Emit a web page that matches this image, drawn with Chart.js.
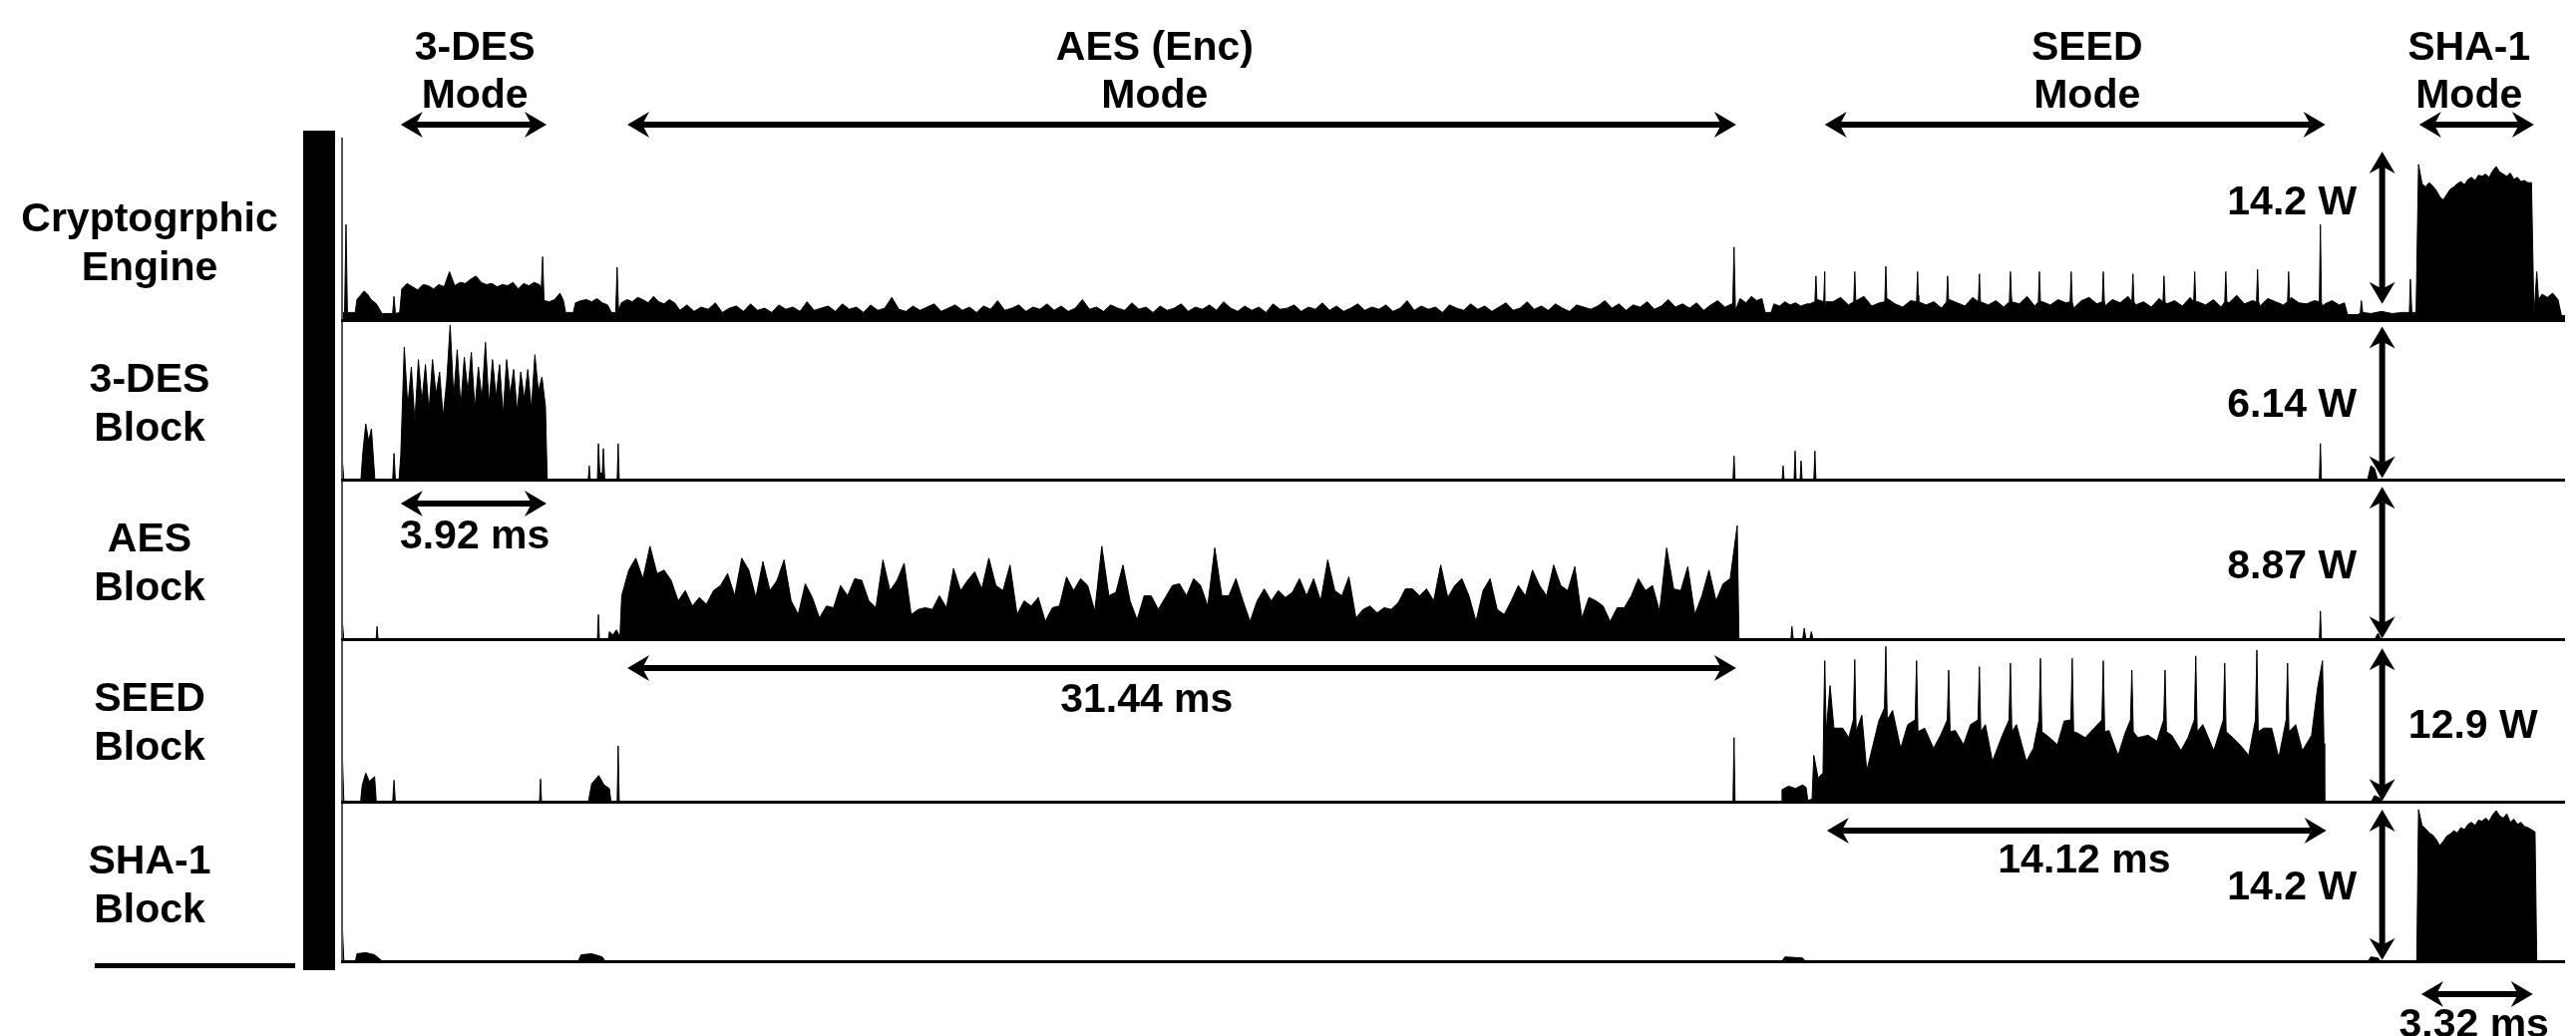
<!DOCTYPE html>
<html>
<head>
<meta charset="utf-8">
<title>Cryptographic engine power traces</title>
<script src="https://cdn.jsdelivr.net/npm/chart.js@4.4.1/dist/chart.umd.min.js"></script>
<style>
  html, body { margin: 0; padding: 0; background: #fff; }
  canvas { display: block; }
</style>
</head>
<body>
<canvas id="traces" width="2583" height="1039"></canvas>
<script>
// time in ms, power in W

// --- Cryptographic engine (total) ---
const engineEarly = [[0,0.8],[0.1,0.8],[0.14,9.0],[0.18,0.8],[0.4,0.8],[0.45,2.0],[0.55,2.4],[0.65,2.8],[0.75,2.5],[0.85,2.0],[1.0,1.6],[1.16,0.7],[1.46,0.7],[1.5,2.3],[1.54,0.7],[1.66,0.8]];
const engineDes = [3.0,3.5,3.2,2.9,3.4,3.3,3.0,3.4,3.2,4.6,3.3,3.6,3.5,3.9,4.2,3.6,3.4,3.5,3.2,3.4,3.3,3.6,3.0,3.5,3.3,3.6,3.4];
const engineMid = [[5.67,3.0],[5.71,6.0],[5.75,1.9],[5.9,1.8],[6.05,2.0],[6.2,2.6],[6.3,1.9],[6.36,0.8],[6.58,0.8],[6.64,1.7],[6.8,1.9],[6.95,2.0],[7.1,1.8],[7.25,2.1],[7.4,1.7],[7.55,1.5],[7.66,0.8],[7.78,0.8],[7.82,5.0],[7.86,1.0],[7.94,1.7],[8.1,2.0],[8.25,1.8],[8.4,2.2],[8.55,2.0],[8.7,1.7],[8.85,2.3],[9.0,1.8],[9.15,1.6],[9.3,2.0],[9.45,1.7]];
const engineAes = [
  1.0,1.5,0.9,1.3,1.1,1.7,0.8,1.2,1.4,0.9,
  1.6,1.0,1.2,0.8,1.5,1.1,1.3,0.9,1.8,1.0,
  1.2,1.4,0.9,1.6,1.1,1.3,0.8,1.5,1.0,1.2,
  2.2,1.1,0.9,1.4,1.0,1.3,1.6,0.9,1.2,1.5,
  1.0,1.3,0.8,1.4,1.1,1.9,1.0,1.2,1.5,0.9,
  1.3,1.1,1.6,1.0,1.4,0.9,1.2,2.0,1.1,1.3,
  0.9,1.5,1.2,1.0,1.7,1.1,1.3,0.8,1.4,1.0,
  1.2,1.6,0.9,1.3,1.1,1.5,1.0,1.8,1.2,0.9,
  1.4,1.0,1.3,0.8,1.6,1.1,1.2,1.5,0.9,1.3,
  1.1,1.7,1.0,1.4,0.9,1.2,1.6,1.0,1.3,1.1,
  1.5,0.9,1.2,1.9,1.0,1.4,1.1,1.3,0.8,1.5,
  1.2,1.0,1.6,1.1,1.4,0.9,1.3,1.7,1.0,1.2,
  1.8,1.1,1.4,1.0,1.6,1.2,0.9,1.5,1.3,1.1,
  1.4,1.9,1.2,1.6,1.0,1.5,1.3,1.8,1.1,1.4,
  2.0,1.3,1.6,1.2,1.7,1.0,1.5,1.9,1.3,1.6];
const engineGap = [[39.42,1.0],[39.46,6.9],[39.5,1.0],[39.63,2.1],[39.8,1.7],[39.95,2.3],[40.1,1.9],[40.25,2.1],[40.34,0.8],[40.51,0.8],[40.59,1.6],[40.75,1.4],[40.9,1.8],[41.05,1.5],[41.2,1.7],[41.35,1.4],[41.53,1.6]];
const engineSeed = [
  1.6,2.0,1.4,1.8,2.2,1.5,1.9,2.3,1.4,1.7,
  2.1,1.6,1.3,1.9,2.4,1.5,1.8,1.2,2.0,1.7,
  1.4,2.2,1.8,1.5,1.9,1.3,2.1,1.6,2.3,1.4,
  1.8,1.5,2.0,1.7,1.2,1.9,2.2,1.6,1.4,2.0,
  1.7,2.3,1.5,1.8,1.3,2.1,1.6,1.9,1.4,2.2,
  1.8,1.5,2.0,1.3,1.7,2.4,1.6,1.9,1.4,2.1,
  1.8,1.5,2.2,1.7,1.6,1.9,1.4];
const engineSeedSpikes = [
  [41.75,1.8],[41.78,4.2],[41.81,1.8],[42.0,1.8],[42.03,4.6],[42.06,1.8],
  [42.85,1.8],[42.88,4.6],[42.91,1.8],[43.73,1.8],[43.76,5.1],[43.79,1.8],
  [44.63,1.8],[44.66,4.6],[44.69,1.8],[45.48,1.8],[45.51,4.2],[45.54,1.8],
  [46.38,1.8],[46.41,4.4],[46.44,1.8],[47.26,1.8],[47.29,4.6],[47.32,1.8],
  [48.08,1.8],[48.11,4.6],[48.14,1.8],[48.98,1.8],[49.01,4.6],[49.04,1.8],
  [49.89,1.8],[49.92,4.6],[49.95,1.8],[50.73,1.8],[50.76,4.4],[50.79,1.8],
  [51.61,1.8],[51.64,4.2],[51.67,1.8],[52.48,1.8],[52.51,4.6],[52.54,1.8],
  [53.36,1.8],[53.39,4.6],[53.42,1.8],[54.26,1.8],[54.29,4.8],[54.32,1.8],
  [55.14,1.8],[55.17,4.6],[55.2,1.8],[56.04,1.8],[56.07,9.0],[56.1,1.8]];
const engineLate = [[56.2,1.6],[56.4,1.9],[56.6,1.5],[56.75,1.7],[56.84,0.6],[57.15,0.6],[57.2,0.8],[57.23,1.9],[57.27,0.8],[57.5,0.7],[57.8,0.9],[58.1,0.7],[58.4,0.8],[58.59,0.8],[58.62,3.9],[58.66,0.8],[58.78,0.8]];
const engineSha = [14.6,12.8,12.5,12.9,12.6,12.2,11.6,11.3,11.8,12.3,12.5,12.8,13.0,12.7,13.2,13.4,13.1,13.6,13.5,13.7,13.4,14.0,14.4,13.9,13.7,13.5,13.8,13.2,13.4,13.0,13.1,12.9,12.9];
const engineTail = [[62.12,0.5],[62.2,4.6],[62.25,2.0],[62.35,2.5],[62.5,2.2],[62.65,2.6],[62.8,2.0],[62.9,0.5],[63,0.5]];

// --- 3-DES block ---
const desSparse = [[0,0],[0.03,1.0],[0.08,0],[0.56,0],[0.62,1.2],[0.7,2.3],[0.78,1.6],[0.86,2.1],[0.96,0],[1.46,0],[1.5,1.1],[1.54,0],[1.64,0],[5.84,0],[7.0,0],[7.03,0.6],[7.06,0],[7.26,0],[7.29,1.5],[7.33,0.3],[7.4,0.3],[7.43,1.3],[7.47,0],[7.82,0],[7.85,1.5],[7.88,0],[39.43,0],[39.46,1.0],[39.49,0],[40.82,0],[40.85,0.6],[40.88,0],[41.16,0],[41.19,1.2],[41.22,0],[41.33,0],[41.36,0.8],[41.39,0],[41.72,0],[41.75,1.2],[41.78,0],[56.04,0],[56.07,1.5],[56.1,0],[57.4,0],[57.5,0.6],[57.6,0.5],[57.7,0],[63,0]];
const desBurst = [1.0,5.4,3.0,4.6,2.4,4.9,3.2,4.7,2.8,4.9,3.5,4.4,2.6,4.0,6.3,3.4,5.3,3.0,5.0,3.6,5.2,2.9,4.6,3.3,5.6,3.1,4.9,3.4,4.7,2.7,4.9,3.5,4.5,2.8,4.4,3.3,4.5,2.9,5.1,3.6,4.2,3.0];

// --- AES block ---
const aesSparse = [[0,0],[0.03,1.3],[0.08,0],[0.99,0],[1.02,0.8],[1.05,0],[7.26,0],[7.29,1.5],[7.32,0],[7.57,0],[7.6,0.5],[7.7,0.3],[7.8,0.6],[7.9,0.2],[39.6,0],[41.07,0],[41.1,0.8],[41.14,0],[41.4,0],[41.45,0.7],[41.5,0],[41.6,0],[41.65,0.5],[41.7,0],[56.04,0],[56.07,1.7],[56.1,0],[57.6,0],[57.7,0.4],[57.8,0],[63,0]];
const aesBurst = [
  2.6,4.1,4.8,3.6,5.5,3.9,4.1,3.5,2.3,2.9,
  2.0,2.5,2.1,2.9,3.2,3.9,2.6,4.8,4.1,2.5,
  4.6,2.9,3.5,4.7,2.3,1.5,3.3,2.5,1.3,2.0,
  1.9,3.2,2.6,3.6,3.5,2.3,1.9,4.7,2.9,3.5,
  4.5,1.5,1.8,1.9,1.8,2.6,1.9,4.2,2.9,3.5,
  4.0,3.0,4.8,3.2,2.9,4.4,1.5,2.3,2.0,2.5,
  1.1,1.9,2.0,3.7,2.9,3.6,3.2,1.7,5.5,2.6,
  2.8,4.4,2.3,1.2,2.6,2.6,1.8,2.5,3.2,3.3,
  2.6,3.6,3.2,2.0,5.4,2.6,2.6,3.6,2.3,1.1,
  2.3,3.0,2.3,2.9,2.5,2.8,3.6,2.6,3.6,2.3,
  4.7,2.9,2.6,3.7,1.3,1.8,2.0,1.6,1.9,1.8,
  2.2,3.0,3.0,2.6,3.0,2.3,4.4,2.5,3.2,3.6,
  2.6,1.1,2.9,3.6,1.8,1.5,2.3,3.2,2.6,4.1,
  3.2,2.6,4.4,3.2,2.9,4.3,1.3,2.5,2.3,2.0,
  1.1,1.9,1.9,2.6,3.6,2.9,3.2,1.7,5.4,3.0,
  2.9,4.3,1.5,2.6,4.1,2.3,3.3,3.6,6.7];

// --- SEED block ---
const seedSparse = [[0,0],[0.03,4.8],[0.08,0],[0.55,0],[0.6,1.5],[0.7,2.5],[0.8,1.8],[0.95,2.2],[1.0,0],[1.46,0],[1.5,1.9],[1.54,0],[5.62,0],[5.65,2.0],[5.68,0],[7.0,0],[7.1,1.6],[7.3,2.3],[7.45,1.5],[7.6,1.2],[7.65,0],[7.82,0],[7.85,4.8],[7.88,0],[39.43,0],[39.46,5.5],[39.49,0],[57.5,0],[57.6,0.6],[57.75,0.4],[57.85,0],[63,0]];
const seedBurst = [
  [40.8,0],[40.82,1.1],[41.0,1.4],[41.2,1.2],[41.4,1.5],[41.5,1.3],[41.55,0.2],[41.67,0.3],[41.72,4.0],[41.84,2.1],[41.98,2.5],
  [42.0,7],[42.03,12.0],[42.07,6],[42.18,9.9],[42.29,6.3],[42.54,6.3],[42.71,5.5],[42.84,7],[42.88,12.1],[42.92,6],
  [43.08,7.4],[43.22,2.7],[43.56,6.9],[43.72,8],[43.76,13.2],[43.8,7],[43.95,7.8],[44.18,4.6],[44.38,6.6],
  [44.59,7],[44.63,12.0],[44.67,6],[44.86,6.3],[45.11,4.6],[45.31,5.7],[45.5,7],[45.54,11.2],[45.58,6],
  [45.73,6.1],[45.96,4.9],[46.16,6.6],[46.37,7],[46.41,11.5],[46.45,6],[46.58,6.6],[46.78,3.5],[47.06,5.7],
  [47.25,7],[47.29,11.8],[47.33,6],[47.46,6.6],[47.74,3.5],[47.94,4.6],[48.1,7],[48.14,12.2],[48.18,6],
  [48.36,5.6],[48.62,4.9],[48.81,6.9],[49.0,7],[49.04,12.2],[49.08,6],[49.18,5.9],[49.41,5.5],[49.66,6.3],
  [49.88,7],[49.92,12.0],[49.96,6],[50.08,6.1],[50.34,4.0],[50.54,5.9],[50.69,7],[50.73,11.2],[50.77,6],
  [50.9,5.5],[51.19,5.7],[51.44,5.2],[51.63,7],[51.67,11.2],[51.71,6],[51.86,5.7],[52.12,4.4],[52.32,5.5],
  [52.5,7],[52.54,12.4],[52.58,6],[52.74,6.6],[53.05,4.4],[53.32,7],[53.36,11.8],[53.4,6],[53.59,5.5],
  [53.79,4.9],[54.04,4.0],[54.23,7],[54.27,12.9],[54.31,6],[54.46,6.3],[54.69,6.3],[54.89,3.8],
  [55.1,7],[55.14,11.8],[55.18,6],[55.37,6.6],[55.56,4.4],[55.82,5.7],[55.99,9.7],[56.13,12.0],[56.17,5],[56.19,0]];

// --- SHA-1 block ---
const shaSparse = [[0,0],[0.03,4.0],[0.08,0],[0.4,0],[0.45,0.8],[0.7,0.9],[0.95,0.7],[1.2,0],[6.7,0],[6.8,0.7],[7.1,0.8],[7.4,0.5],[7.5,0],[40.8,0],[40.9,0.5],[41.4,0.4],[41.5,0],[57.4,0],[57.5,0.5],[57.7,0.4],[57.8,0],[58.8,0],[62.2,0],[63,0]];
const shaBurst = [14.4,12.9,12.6,12.2,12.0,11.6,11.0,11.4,11.9,12.1,12.4,12.2,12.7,12.5,13.0,13.2,12.9,13.4,13.3,13.6,13.3,13.9,14.3,13.8,13.6,14.0,13.2,13.5,13.0,13.2,12.8,12.7,12.5,12.3];

// --- labels ---
const blockNames = [['Cryptogrphic', 'Engine'], ['3-DES', 'Block'], ['AES', 'Block'], ['SEED', 'Block'], ['SHA-1', 'Block']];
const modeNames = [['3-DES', 'Mode'], ['AES (Enc)', 'Mode'], ['SEED', 'Mode'], ['SHA-1', 'Mode']];
const modeCenters = [3.79, 23.05, 49.46, 60.28];
const modeSpans = [[1.69, 5.82], [8.11, 39.52], [42.03, 56.21], [58.87, 62.12]];
const powerLabels = ['14.2 W', '6.14 W', '8.87 W', '12.9 W', '14.2 W'];
const powerSpans = [[1.6, 15.8], [0.1, 6.24], [0.1, 8.97], [0.15, 13.05], [0.2, 14.4]];
const powerLabelLevel = [9.94, 2.59, 3.62, 5.48, 5.93];
const durationLabels = ['3.92 ms', '31.44 ms', '14.12 ms', '3.32 ms'];
const durationSpans = [[1.69, 5.82], [8.11, 39.52], [42.09, 56.24], [58.93, 62.09]];
const durationCenters = [3.79, 22.82, 49.38, 60.42];
const powerArrowTime = 57.82;

function uniform(start, step, values) {
    return values.map((v, i) => [+(start + i * step).toFixed(3), v]);
}

function buildTrace(...parts) {
    return parts.flat()
        .sort((a, b) => a[0] - b[0])
        .map(([x, y]) => ({ x, y }));
}

const panelIds = ['engine', 'des', 'aes', 'seed', 'sha'];
const traces = [
    buildTrace(engineEarly, uniform(1.72, 0.15, engineDes), engineMid, uniform(9.6, 0.2, engineAes),
        engineGap, uniform(41.6, 0.22, engineSeed), engineSeedSpikes, engineLate,
        uniform(58.85, 0.1, engineSha), engineTail),
    buildTrace(desSparse, uniform(1.69, 0.1, desBurst)),
    buildTrace(aesSparse, uniform(7.95, 0.2, aesBurst)),
    buildTrace(seedSparse, seedBurst),
    buildTrace(shaSparse, uniform(58.85, 0.1, shaBurst)),
];

const FONT = 'bold 41px "Liberation Sans", Arial, sans-serif';

function doubleArrow(ctx, x1, y1, x2, y2) {
    const len = Math.hypot(x2 - x1, y2 - y1);
    const ux = (x2 - x1) / len, uy = (y2 - y1) / len;
    const head = 22, half = 13, notch = 15;
    ctx.lineWidth = 6;
    ctx.beginPath();
    ctx.moveTo(x1 + ux * notch, y1 + uy * notch);
    ctx.lineTo(x2 - ux * notch, y2 - uy * notch);
    ctx.stroke();
    for (const [px, py, d] of [[x1, y1, 1], [x2, y2, -1]]) {
        const bx = px + ux * head * d, by = py + uy * head * d;
        ctx.beginPath();
        ctx.moveTo(px, py);
        ctx.lineTo(bx - uy * half, by + ux * half);
        ctx.lineTo(px + ux * notch * d, py + uy * notch * d);
        ctx.lineTo(bx + uy * half, by - ux * half);
        ctx.closePath();
        ctx.fill();
    }
}

const annotate = {
    id: 'annotate',
    afterDraw(chart) {
        const { ctx, chartArea: area, scales } = chart;
        const xs = scales.x;
        const panels = panelIds.map(id => scales[id]);
        ctx.save();
        ctx.fillStyle = '#000';
        ctx.strokeStyle = '#000';

        // frame pieces at the left
        ctx.fillRect(area.left - 38, area.top - 7, 32, area.bottom - area.top + 15);
        ctx.fillRect(area.left - 247, area.bottom + 1, 201, 5);
        ctx.fillStyle = '#555';
        ctx.fillRect(area.left, area.top, 2, area.bottom - area.top);
        ctx.fillStyle = '#000';

        // panel baselines
        panels.forEach(s => ctx.fillRect(area.left, s.bottom - 2, area.right - area.left, 3));

        ctx.font = FONT;
        ctx.textBaseline = 'alphabetic';

        // block names
        ctx.textAlign = 'center';
        panels.forEach((s, i) => {
            const first = i === 0 ? s.top + 94 : s.top + 71;
            ctx.fillText(blockNames[i][0], area.left - 192, first);
            ctx.fillText(blockNames[i][1], area.left - 192, first + 49);
        });

        // modes on top
        modeNames.forEach((m, i) => {
            const cx = xs.getPixelForValue(modeCenters[i]);
            ctx.fillText(m[0], cx, area.top - 78);
            ctx.fillText(m[1], cx, area.top - 30);
            doubleArrow(ctx, xs.getPixelForValue(modeSpans[i][0]), area.top - 13,
                xs.getPixelForValue(modeSpans[i][1]), area.top - 13);
        });

        // power swing of each block
        const ax = xs.getPixelForValue(powerArrowTime);
        panels.forEach((s, i) => {
            doubleArrow(ctx, ax, s.getPixelForValue(powerSpans[i][1]), ax, s.getPixelForValue(powerSpans[i][0]));
            const ly = s.getPixelForValue(powerLabelLevel[i]);
            if (i === 3) {
                ctx.textAlign = 'left';
                ctx.fillText(powerLabels[i], xs.getPixelForValue(58.56), ly);
            } else {
                ctx.textAlign = 'right';
                ctx.fillText(powerLabels[i], xs.getPixelForValue(57.1), ly);
            }
        });

        // run times under each block
        ctx.textAlign = 'center';
        const arrowGap = [23, 28, 28, 32];
        const textGap = [68, 72, 70, 75];
        durationLabels.forEach((d, i) => {
            const s = panels[i + 1];
            doubleArrow(ctx, xs.getPixelForValue(durationSpans[i][0]), s.bottom + arrowGap[i],
                xs.getPixelForValue(durationSpans[i][1]), s.bottom + arrowGap[i]);
            ctx.fillText(d, xs.getPixelForValue(durationCenters[i]), s.bottom + textGap[i]);
        });
        ctx.restore();
    }
};

function panelScale(max, weight) {
    return { type: 'linear', position: 'left', stack: 'panels', stackWeight: weight, min: 0, max, display: false };
}

new Chart(document.getElementById('traces'), {
    type: 'line',
    data: {
        datasets: traces.map((data, i) => ({
            label: blockNames[i].join(' '),
            data,
            yAxisID: panelIds[i],
            borderColor: '#000',
            backgroundColor: '#000',
            borderWidth: 1,
            fill: 'origin',
            pointRadius: 0,
            tension: 0,
        })),
    },
    options: {
        responsive: false,
        animation: false,
        devicePixelRatio: 1,
        layout: { padding: { left: 342, right: 11, top: 138, bottom: 74 } },
        plugins: { legend: { display: false }, tooltip: { enabled: false } },
        scales: {
            x: { type: 'linear', min: 0, max: 63, display: false },
            // listed bottom panel first: stacked left axes are laid out from the last one down
            sha: panelScale(15.05, 160),
            seed: panelScale(13.74, 163),
            aes: panelScale(9.34, 160),
            des: panelScale(6.46, 160),
            engine: panelScale(17.1, 184),
        },
    },
    plugins: [annotate],
});
</script>
</body>
</html>
